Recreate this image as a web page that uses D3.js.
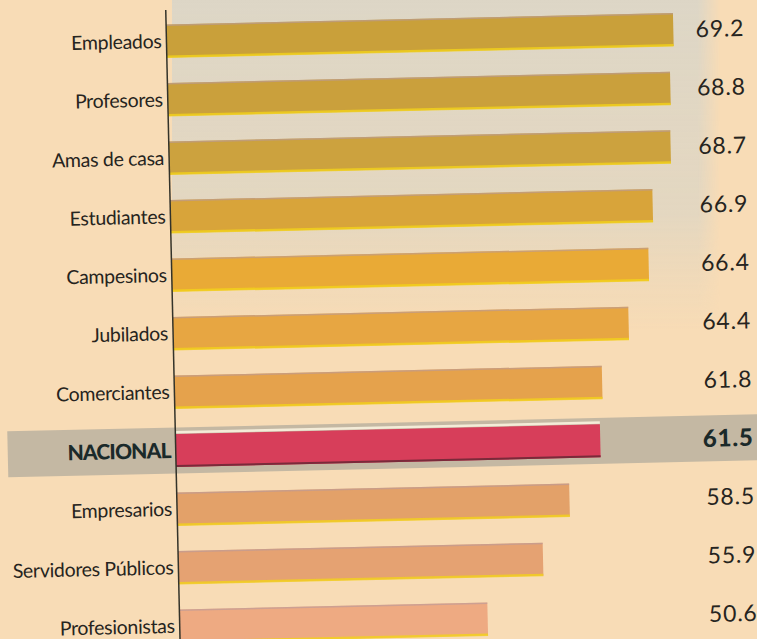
<!DOCTYPE html>
<html>
<head>
	<meta charset="utf-8">
	<title>Ocupaciones</title>
	<script src="https://d3js.org/d3.v7.min.js"></script>
	<style type="text/css">
		body { margin:0; background:#f8dcb6; }
		svg { display:block; }
	</style>
</head>
<body>
<script>
	// data
	var categories = ["Empleados", "Profesores", "Amas de casa", "Estudiantes", "Campesinos",
		"Jubilados", "Comerciantes", "NACIONAL", "Empresarios", "Servidores Públicos", "Profesionistas"];
	var values = [69.2, 68.8, 68.7, 66.9, 66.4, 64.4, 61.8, 61.5, 58.5, 55.9, 50.6];
	var valueLabels = ["69.2", "68.8", "68.7", "66.9", "66.4", "64.4", "61.8", "61.5", "58.5", "55.9", "50.6"];
	var highlight = "NACIONAL";

	// bar fills, top to bottom
	var barColors = ["#c9a03a", "#caa03c", "#cca23e", "#d8a43a", "#e9aa36", "#e7a642",
		"#e5a24c", "#d73e5a", "#e3a169", "#e5a272", "#eeaa82"];

	var W = 757, H = 639;
	var svg = d3.select("body").append("svg")
		.attr("width", W)
		.attr("height", H);

	// paper + the greyish patch behind the top bars
	svg.append("rect").attr("width", W).attr("height", H).attr("fill", "#f8dcb6");
	var defs = svg.append("defs");
	var grad = defs.append("linearGradient").attr("id", "greyfade")
		.attr("x1", 0).attr("y1", 0).attr("x2", 0).attr("y2", 1);
	grad.append("stop").attr("offset", "0%").attr("stop-color", "#ddd6c6").attr("stop-opacity", 1);
	grad.append("stop").attr("offset", "65%").attr("stop-color", "#e0d6c2").attr("stop-opacity", 0.85);
	grad.append("stop").attr("offset", "100%").attr("stop-color", "#e6d6bc").attr("stop-opacity", 0);
	var gradH = defs.append("linearGradient").attr("id", "greyedge")
		.attr("x1", 0).attr("y1", 0).attr("x2", 1).attr("y2", 0);
	gradH.append("stop").attr("offset", "0%").attr("stop-color", "#fff").attr("stop-opacity", 1);
	gradH.append("stop").attr("offset", "96%").attr("stop-color", "#fff").attr("stop-opacity", 1);
	gradH.append("stop").attr("offset", "100%").attr("stop-color", "#fff").attr("stop-opacity", 0);
	defs.append("mask").attr("id", "edgemask")
		.append("rect")
		.attr("x", 172).attr("y", 0)
		.attr("width", 548).attr("height", 330)
		.attr("fill", "url(#greyedge)");
	svg.append("rect")
		.attr("x", 172).attr("y", 0)
		.attr("width", 548).attr("height", 330)
		.attr("fill", "url(#greyfade)")
		.attr("mask", "url(#edgemask)");

	// the scan is a little tilted
	var g = svg.append("g")
		.attr("transform", "translate(173,330) rotate(-1.3)");

	var xScale = d3.scaleLinear()
		.domain([21.8, 69.2])
		.range([0, 507]);
	var yScale = d3.scalePoint()
		.domain(categories)
		.range([-289, 296]);
	var color = d3.scaleOrdinal().domain(categories).range(barColors);

	var barH = 33;

	// grey band behind the national row
	g.append("rect")
		.attr("x", -168)
		.attr("y", yScale(highlight) - 23)
		.attr("width", 800)
		.attr("height", 46)
		.attr("fill", "#c4b8a3");

	var rows = g.selectAll("g.row")
		.data(categories)
		.enter().append("g")
		.attr("class", "row");

	rows.append("rect")
		.attr("x", xScale(21.8))
		.attr("y", function(d) { return yScale(d) - barH / 2; })
		.attr("width", function(d, i) { return xScale(values[i]) - xScale(21.8); })
		.attr("height", barH)
		.attr("fill", function(d) { return color(d); });

	// misregistration edges of the print
	rows.filter(function(d) { return d != highlight; })
		.append("rect")
		.attr("x", 0)
		.attr("y", function(d) { return yScale(d) + barH / 2 - 2; })
		.attr("width", function(d) { return xScale(values[categories.indexOf(d)]); })
		.attr("height", 2.5)
		.attr("fill", "#f3d21a")
		.attr("opacity", 0.8);
	rows.filter(function(d) { return d != highlight; })
		.append("rect")
		.attr("x", 0)
		.attr("y", function(d) { return yScale(d) - barH / 2; })
		.attr("width", function(d) { return xScale(values[categories.indexOf(d)]); })
		.attr("height", 1.5)
		.attr("fill", "#b89a9c")
		.attr("opacity", 0.6);
	rows.filter(function(d) { return d == highlight; })
		.append("rect")
		.attr("x", 0)
		.attr("y", function(d) { return yScale(d) - barH / 2 - 3; })
		.attr("width", function(d) { return xScale(values[categories.indexOf(d)]); })
		.attr("height", 2.5)
		.attr("fill", "#f4ecd8");
	rows.filter(function(d) { return d == highlight; })
		.append("rect")
		.attr("x", 0)
		.attr("y", function(d) { return yScale(d) + barH / 2 - 2; })
		.attr("width", function(d) { return xScale(values[categories.indexOf(d)]); })
		.attr("height", 2)
		.attr("fill", "#7a2a3a");

	// category labels
	rows.append("text")
		.attr("x", -5)
		.attr("y", function(d) { return yScale(d); })
		.attr("dy", "0.35em")
		.attr("text-anchor", "end")
		.style("font-family", "Lato, 'Noto Sans', sans-serif")
		.style("font-size", function(d) { return d == highlight ? "21px" : "19.5px"; })
		.style("font-weight", function(d) { return d == highlight ? 900 : 400; })
		.style("letter-spacing", function(d) { return d == highlight ? "-0.8px" : "-0.3px"; })
		.attr("fill", function(d) { return d == highlight ? "#1b2a2a" : "#262420"; })
		.text(function(d) { return d; });

	// value labels
	rows.append("text")
		.attr("x", 578)
		.attr("y", function(d) { return yScale(d); })
		.attr("dy", "0.35em")
		.attr("text-anchor", "end")
		.style("font-family", "Lato, 'Noto Sans', sans-serif")
		.style("font-size", function(d) { return d == highlight ? "24px" : "23px"; })
		.style("font-weight", function(d) { return d == highlight ? 900 : 400; })
		.style("letter-spacing", "0.8px")
		.attr("fill", function(d) { return d == highlight ? "#1b2a2a" : "#262420"; })
		.text(function(d, i) { return valueLabels[i]; });

	// vertical axis line
	g.append("line")
		.attr("x1", 0).attr("x2", 0)
		.attr("y1", -320).attr("y2", 340)
		.attr("stroke", "#33332a")
		.attr("stroke-width", 1.5);
</script>
</body>
</html>
